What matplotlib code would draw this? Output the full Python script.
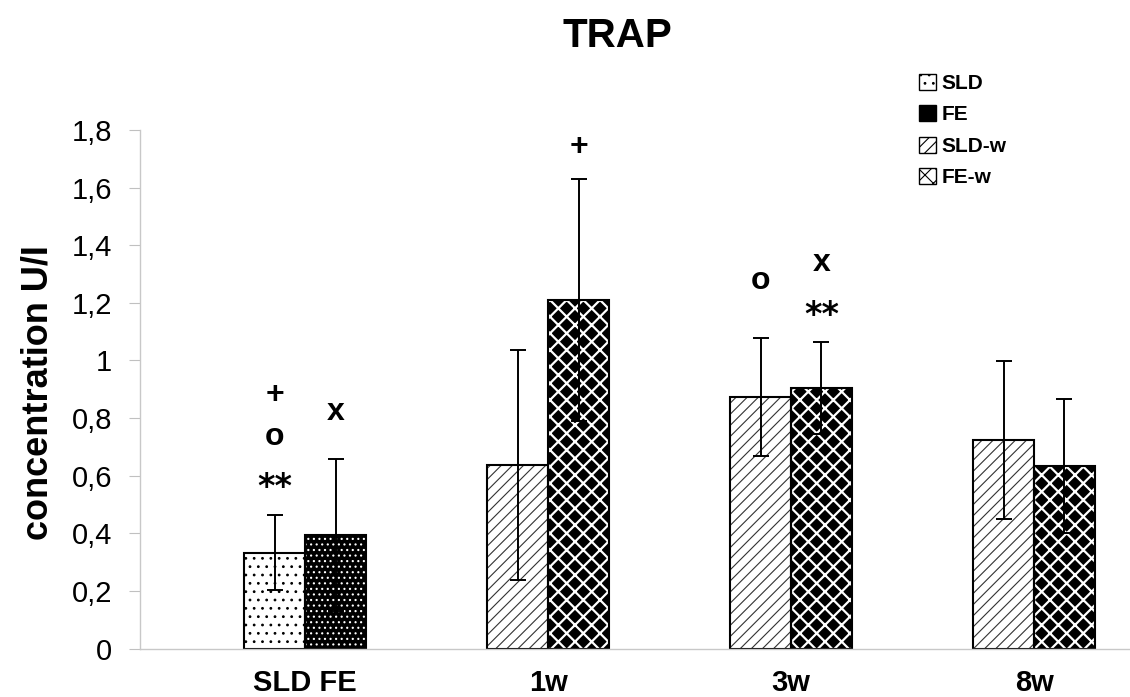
import matplotlib
matplotlib.use('Agg')
import matplotlib.pyplot as plt
from matplotlib.patches import Patch
import numpy as np

plt.rcParams['font.family'] = ['Liberation Sans', 'DejaVu Sans']
plt.rcParams['hatch.linewidth'] = 0.8

# data
groups = ['SLD FE', '1w', '3w', '8w']
sld = [0.332]
sld_err = [0.13]
fe = [0.394]
fe_err = [0.265]
sld_w = [0.637, 0.873, 0.724]
sld_w_err = [0.40, 0.205, 0.275]
fe_w = [1.21, 0.904, 0.634]
fe_w_err = [0.42, 0.16, 0.233]

# significance marks: (group, side, y, text)
marks = [
    (0, -1, 0.88, '+'), (0, -1, 0.735, 'o'), (0, -1, 0.56, '**'),
    (0, 1, 0.822, 'x'),
    (1, 1, 1.742, '+'),
    (2, -1, 1.276, 'o'), (2, 1, 1.34, 'x'), (2, 1, 1.157, '**'),
]

W, H = 1130, 697
fig = plt.figure(figsize=(W / 100, H / 100), dpi=100)
ax = fig.add_axes([140 / W, 1 - 648.5 / H, 1 - 140 / W, (648.5 - 130) / H])

x = np.arange(len(groups))
bw = 0.25
ekw = dict(ecolor='black', elinewidth=1.4, capsize=6, capthick=1.4)

# SLD / FE only in first group
ax.bar(x[:1] - bw / 2, sld, bw, color='white', edgecolor='black', hatch='..', linewidth=0)
ax.bar(x[:1] + bw / 2, fe, bw, color='black', edgecolor='white', hatch='...', linewidth=0)
# weeks groups
ax.bar(x[1:] - bw / 2, sld_w, bw, color='white', edgecolor='#333333', hatch='///', linewidth=0)
fw = ax.bar(x[1:] + bw / 2, fe_w, bw, color='black', edgecolor='white', hatch='xx', linewidth=0)
for p in fw:
    if hasattr(p, 'set_hatch_linewidth'):
        p.set_hatch_linewidth(1.6)

# outlines + error bars
ax.bar(x[:1] - bw / 2, sld, bw, fill=False, edgecolor='black', linewidth=1.5,
       yerr=sld_err, error_kw=ekw)
ax.bar(x[:1] + bw / 2, fe, bw, fill=False, edgecolor='black', linewidth=1.5,
       yerr=fe_err, error_kw=ekw)
ax.bar(x[1:] - bw / 2, sld_w, bw, fill=False, edgecolor='black', linewidth=1.5,
       yerr=sld_w_err, error_kw=ekw)
ax.bar(x[1:] + bw / 2, fe_w, bw, fill=False, edgecolor='black', linewidth=1.5,
       yerr=fe_w_err, error_kw=ekw)

for g, side, yv, t in marks:
    if t == '**':
        ax.text(g + side * bw / 2, yv, t, ha='center', va='center',
                fontsize=24, fontweight='bold', family='DejaVu Sans')
    else:
        ax.text(g + side * bw / 2, yv, t, ha='center', va='center',
                fontsize=23, fontweight='bold')

ax.set_xlim(-0.68, (W - 305) / 243)
ax.set_ylim(0, 1.8)
yt = np.arange(0, 1.81, 0.2)
ax.set_yticks(yt)
ax.set_yticklabels(['0' if v == 0 else ('1' if abs(v - 1) < 1e-9 else f'{v:.1f}'.replace('.', ','))
                    for v in yt], fontsize=21)
ax.set_xticks(x)
ax.set_xticklabels(groups, fontsize=21, fontweight='bold')
ax.tick_params(axis='x', length=0, pad=15)
ax.tick_params(axis='y', length=8, color='#c0c0c0', pad=12, direction='out')
for s in ['top', 'right']:
    ax.spines[s].set_visible(False)
for s in ['left', 'bottom']:
    ax.spines[s].set_color('#c8c8c8')
    ax.spines[s].set_linewidth(1.0)

fig.text(617 / W, 1 - 47 / H, 'TRAP', ha='center', va='baseline',
         fontsize=29, fontweight='bold')
fig.text(38 / W, 1 - 393 / H, 'concentration U/I', rotation=90, ha='center',
         va='center', fontsize=26, fontweight='bold')

handles = [
    Patch(facecolor='white', edgecolor='black', hatch='..', label='SLD'),
    Patch(facecolor='black', edgecolor='black', label='FE'),
    Patch(facecolor='white', edgecolor='black', hatch='///', label='SLD-w'),
    Patch(facecolor='white', edgecolor='black', hatch='xx', label='FE-w'),
]
fig.legend(handles=handles, loc='upper left', bbox_to_anchor=(919 / W, 1 - 74 / H),
           frameon=False, prop={'weight': 'bold', 'size': 15}, handlelength=0.8,
           handleheight=0.8, handletextpad=0.3, labelspacing=0.58, borderpad=0,
           borderaxespad=0)

fig.savefig('out.png', dpi=100)
